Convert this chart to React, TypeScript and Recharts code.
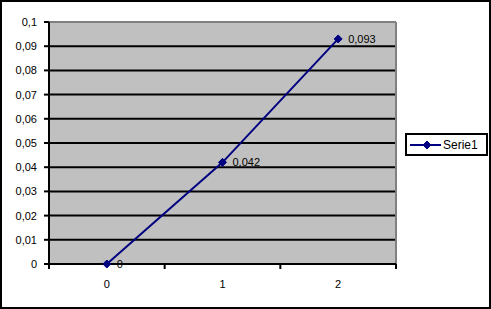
import { CartesianGrid, LabelList, Line, LineChart, ReferenceLine, XAxis, YAxis } from "recharts"

const categories = [0, 1, 2]
const serie1 = [0, 0.042, 0.093]
const yTicks = [0, 0.01, 0.02, 0.03, 0.04, 0.05, 0.06, 0.07, 0.08, 0.09, 0.1]
const xBoundaries = [-0.5, 0.5, 1.5, 2.5]

const data = categories.map((c, i) => ({ x: c, serie1: serie1[i] }))

const NAVY = "#000080"
const FONT = "'Liberation Sans', Arial, sans-serif"

const fmt = (v: number) => String(v).replace(".", ",")

function Diamond({ cx, cy }: any) {
  if (cx == null || cy == null) return null
  return <polygon points={`${cx},${cy - 4} ${cx + 4},${cy} ${cx},${cy + 4} ${cx - 4},${cy}`} fill={NAVY} stroke={NAVY} />
}

// boundary ticks get a tick mark, category ticks get a label
function XTick({ x, y, payload }: any) {
  const v = payload.value
  if (!Number.isInteger(v)) {
    return <line x1={x} x2={x} y1={y - 8} y2={y - 3} stroke="#000" strokeWidth={2} />
  }
  return (
    <text x={x} y={y + 16} textAnchor="middle" fontSize={11} fontFamily={FONT} fill="#000">
      {v}
    </text>
  )
}

function LegendBox() {
  return (
    <div
      style={{
        position: "absolute",
        left: 403,
        top: 131,
        boxSizing: "border-box",
        width: 83,
        height: 23,
        border: "2px solid #000",
        background: "#fff",
        display: "flex",
        alignItems: "center",
      }}
    >
      <svg width={36} height={18}>
        <line x1={3} x2={34} y1={9} y2={9} stroke={NAVY} strokeWidth={2} />
        <Diamond cx={20} cy={9} />
      </svg>
      <span style={{ fontFamily: FONT, fontSize: 12, color: "#000" }}>Serie1</span>
    </div>
  )
}

export default function App() {
  return (
    <div
      style={{
        position: "fixed",
        left: 0,
        top: 0,
        width: 491,
        height: 309,
        boxSizing: "border-box",
        border: "2px solid #000",
        background: "#fff",
      }}
    >
      <div style={{ position: "absolute", left: -2, top: -2 }}>
        <LineChart width={491} height={309} data={data} margin={{ top: 22, right: 95, left: 0, bottom: 15 }}>
          <CartesianGrid vertical={false} fill="#c0c0c0" stroke="#000" strokeWidth={2} horizontalValues={yTicks} />
          <XAxis
            dataKey="x"
            type="number"
            domain={[-0.5, 2.5]}
            ticks={[...xBoundaries, ...categories]}
            interval={0}
            tickLine={false}
            axisLine={{ stroke: "#000", strokeWidth: 2 }}
            tick={<XTick />}
            height={30}
          />
          <YAxis
            type="number"
            domain={[0, 0.1]}
            ticks={yTicks}
            interval={0}
            width={49}
            tickSize={5}
            tickMargin={7}
            tickFormatter={fmt}
            tick={{ fontSize: 11, fontFamily: FONT, fill: "#000" }}
            tickLine={{ stroke: "#000", strokeWidth: 2 }}
            axisLine={{ stroke: "#000", strokeWidth: 2 }}
          />
          <ReferenceLine y={0.1} stroke="#808080" strokeWidth={2} />
          <ReferenceLine x={2.5} stroke="#808080" strokeWidth={2} />
          <Line
            type="linear"
            dataKey="serie1"
            name="Serie1"
            stroke={NAVY}
            strokeWidth={2}
            dot={<Diamond />}
            activeDot={false}
            isAnimationActive={false}
          >
            <LabelList
              dataKey="serie1"
              position="right"
              offset={10}
              formatter={(v: any) => fmt(v)}
              style={{ fontSize: 11, fontFamily: FONT, fill: "#000" }}
            />
          </Line>
        </LineChart>
      </div>
      <LegendBox />
    </div>
  )
}
